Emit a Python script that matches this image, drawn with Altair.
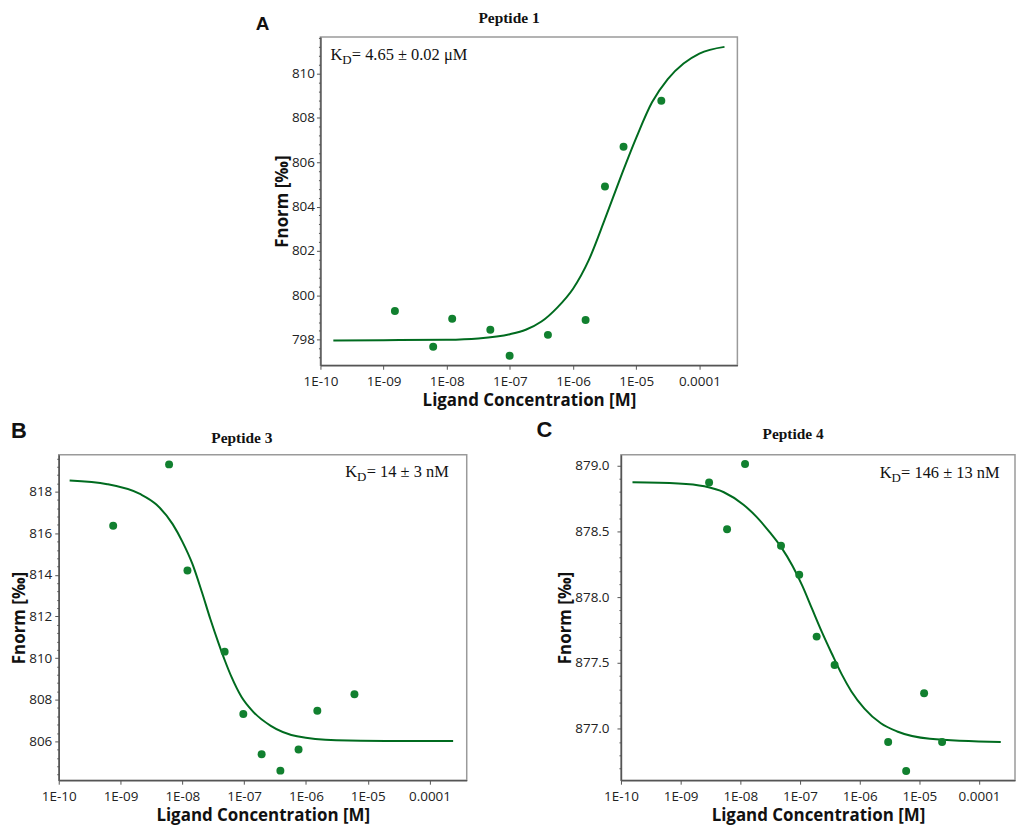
import json
import math
import altair as alt
import pandas as pd

# ---------------- data ----------------
X_TICKS = [1e-10, 1e-9, 1e-8, 1e-7, 1e-6, 1e-5, 1e-4]
X_TICK_LABELS = ["1E-10", "1E-09", "1E-08", "1E-07", "1E-06", "1E-05", "0.0001"]
X_DOMAIN = [1e-10, 4e-4]

A_CONC = [1.51e-9, 6.1e-9, 1.22e-8, 4.9e-8, 9.9e-8, 4.0e-7, 1.58e-6, 3.2e-6, 6.3e-6, 2.5e-5]
A_FNORM = [799.30, 797.68, 798.95, 798.45, 797.28, 798.22, 798.89, 804.91, 806.70, 808.77]
A_FIT_CONC = [1.6e-10, 1e-9, 1e-8, 3.16e-8, 1e-7, 1.78e-7, 3.16e-7, 5.62e-7, 1e-6, 1.78e-6,
              3.16e-6, 5.62e-6, 1e-5, 1.78e-5, 3.16e-5, 5.62e-5, 1e-4, 2.5e-4]
A_FIT_FNORM = [797.97, 797.98, 798.00, 798.06, 798.25, 798.45, 798.82, 799.45, 800.3, 801.6,
               803.4, 805.3, 807.1, 808.7, 809.75, 810.45, 810.9, 811.2]

B_CONC = [7.6e-10, 6.1e-9, 1.21e-8, 4.84e-8, 9.7e-8, 1.92e-7, 3.86e-7, 7.6e-7, 1.53e-6, 6.1e-6]
B_FNORM = [816.36, 819.31, 814.21, 810.31, 807.31, 805.38, 804.59, 805.61, 807.47, 808.26]
B_FIT_CONC = [1.5e-10, 6.1e-10, 2.06e-9, 3.8e-9, 6.97e-9, 1.0e-8, 1.45e-8, 2.09e-8, 2.83e-8,
              3.85e-8, 4.91e-8, 6.27e-8, 9.03e-8, 1.38e-7, 2.7e-7, 7.18e-7, 3.1e-6, 1.93e-5, 2.41e-4]
B_FIT_FNORM = [818.53, 818.36, 817.89, 817.38, 816.44, 815.6, 814.54, 813.14, 811.89,
               810.72, 809.86, 809.08, 808.14, 807.44, 806.74, 806.24, 806.05, 806.02, 806.02]

C_CONC = [3.0e-9, 6.0e-9, 1.2e-8, 4.8e-8, 9.7e-8, 1.9e-7, 3.8e-7, 3.0e-6, 6.0e-6, 1.2e-5, 2.4e-5]
C_FNORM = [878.87, 878.515, 879.01, 878.39, 878.17, 877.70, 877.485, 876.90, 876.68, 877.27, 876.90]
C_FIT_CONC = [1.56e-10, 9.1e-10, 2.5e-9, 5.3e-9, 1.13e-8, 1.87e-8, 3.1e-8, 4.8e-8, 7.5e-8,
              1.09e-7, 1.6e-7, 2.33e-7, 3.4e-7, 4.98e-7, 7.26e-7, 1.2e-6, 2.26e-6, 4.25e-6,
              1.5e-5, 2.31e-4]
C_FIT_FNORM = [878.871, 878.863, 878.841, 878.796, 878.701, 878.609, 878.493, 878.381, 878.236,
               878.087, 877.908, 877.734, 877.572, 877.415, 877.284, 877.154, 877.042, 876.98,
               876.925, 876.900]

TITLES = ["Peptide 1", "Peptide 3", "Peptide 4"]
LETTERS = ["A", "B", "C"]
KD_TEXTS = ["= 4.65 \u00b1 0.02 \u03bcM", "= 14 \u00b1 3 nM", "= 146 \u00b1 13 nM"]
Y_DOMAINS = [[796.85, 811.65], [804.13, 819.77], [876.61, 879.08]]

POINT_COLOR = "#11802f"
LINE_COLOR = "#006b1f"

X_LABEL_EXPR = json.dumps(X_TICK_LABELS) + "[round(log(datum.value)/LN10) + 10]"


def tick_values(lo, hi, step):
    n0 = math.ceil(lo / step - 1e-9)
    n1 = math.floor(hi / step + 1e-9)
    return [round(i * step, 2) for i in range(n0, n1 + 1)]


def text_mark(one, text, x, y, font, size, weight="normal", align="left"):
    return alt.Chart(one).mark_text(
        text=text, font=font, fontSize=size, fontWeight=weight, align=align,
        baseline="alphabetic", color="#111"
    ).encode(x=alt.value(x), y=alt.value(y))


def panel(idx, conc, fnorm, fit_c, fit_f, minor_step, major_test, fmt, label_pad,
          width, height, title_dx, title_offset, letter_x, letter_y, letter_size,
          kd_x, kd_y):
    ydom = Y_DOMAINS[idx]
    pts = pd.DataFrame({"c": conc, "f": fnorm})
    fit = pd.DataFrame({"c": fit_c, "f": fit_f})
    one = pd.DataFrame({"k": [0]})

    x_enc = alt.X(
        "c:Q",
        scale=alt.Scale(type="log", domain=X_DOMAIN, nice=False),
        axis=alt.Axis(values=X_TICKS, labelExpr=X_LABEL_EXPR,
                      title="Ligand Concentration [M]", tickSize=4,
                      labelPadding=5, titlePadding=5),
    )
    y_enc = alt.Y(
        "f:Q",
        scale=alt.Scale(domain=ydom, nice=False, zero=False),
        axis=alt.Axis(
            values=tick_values(ydom[0], ydom[1], minor_step),
            labelExpr=f"({major_test}) ? format(datum.value, '{fmt}') : ''",
            tickSize={"condition": {"test": major_test, "value": 4}, "value": 2},
            labelPadding=label_pad, titlePadding=0, title="Fnorm [\u2030]",
        ),
    )

    line = alt.Chart(fit).mark_line(color=LINE_COLOR, strokeWidth=2,
                                    interpolate="monotone").encode(x=x_enc, y=y_enc)
    dots = alt.Chart(pts).mark_circle(color=POINT_COLOR, size=64,
                                      opacity=1).encode(x=x_enc, y=y_enc)

    title = text_mark(one, TITLES[idx], width / 2 + title_dx, -title_offset,
                      "Liberation Serif", 15.5, "bold", "center")
    letter = text_mark(one, LETTERS[idx], letter_x, letter_y,
                       "Liberation Sans", letter_size, "bold")
    kd_k = text_mark(one, "K", kd_x, kd_y, "Liberation Serif", 16.5)
    kd_d = text_mark(one, "D", kd_x + 11.8, kd_y + 4, "Liberation Serif", 13)
    kd_rest = text_mark(one, KD_TEXTS[idx], kd_x + 21.5, kd_y, "Liberation Serif", 16.5)

    return alt.layer(line, dots, title, letter, kd_k, kd_d, kd_rest).properties(
        width=width, height=height,
    )


EVEN2 = "abs(datum.value/2 - round(datum.value/2)) < 0.01"
HALF = "abs(datum.value*2 - round(datum.value*2)) < 0.01"

pA = panel(0, A_CONC, A_FNORM, A_FIT_CONC, A_FIT_FNORM, 0.4, EVEN2, ".0f", 2,
           419, 330, -20, 14, -65, -7, 19, 10, 23)
pB = panel(1, B_CONC, B_FNORM, B_FIT_CONC, B_FIT_FNORM, 0.4, EVEN2, ".0f", 3,
           410, 327, -21, 12, -48, -17, 22, 288, 22)
pC = panel(2, C_CONC, C_FNORM, C_FIT_CONC, C_FIT_FNORM, 0.1, HALF, ".1f", 8,
           396, 327, -25, 16, -85, -18, 22, 260, 23)

spacer = alt.Chart(pd.DataFrame({"k": [0]})).mark_text(text="").encode(
    x=alt.value(0), y=alt.value(0)
).properties(width=197, height=10, view=alt.ViewBackground(strokeOpacity=0))

top_row = alt.hconcat(spacer, pA, spacing=0)
bottom_row = alt.hconcat(pB, pC, spacing=68)

chart = alt.vconcat(top_row, bottom_row, spacing=8).properties(
    padding={"left": 2, "top": 0, "right": 0, "bottom": 0}
).configure_view(
    stroke="#9a9a9a", strokeWidth=1.5
).configure_axis(
    grid=False, labelFont="Open Sans", labelFontSize=13.5, labelColor="#222",
    titleFont="Open Sans", titleFontSize=17, titleFontWeight="bold", titleColor="#111",
    domainColor="#555", domainWidth=1.5, tickColor="#555", tickWidth=1,
    labelFlush=False, labelOverlap=False,
)

chart.save("out.html", embed_options={"renderer": "svg", "actions": False})
